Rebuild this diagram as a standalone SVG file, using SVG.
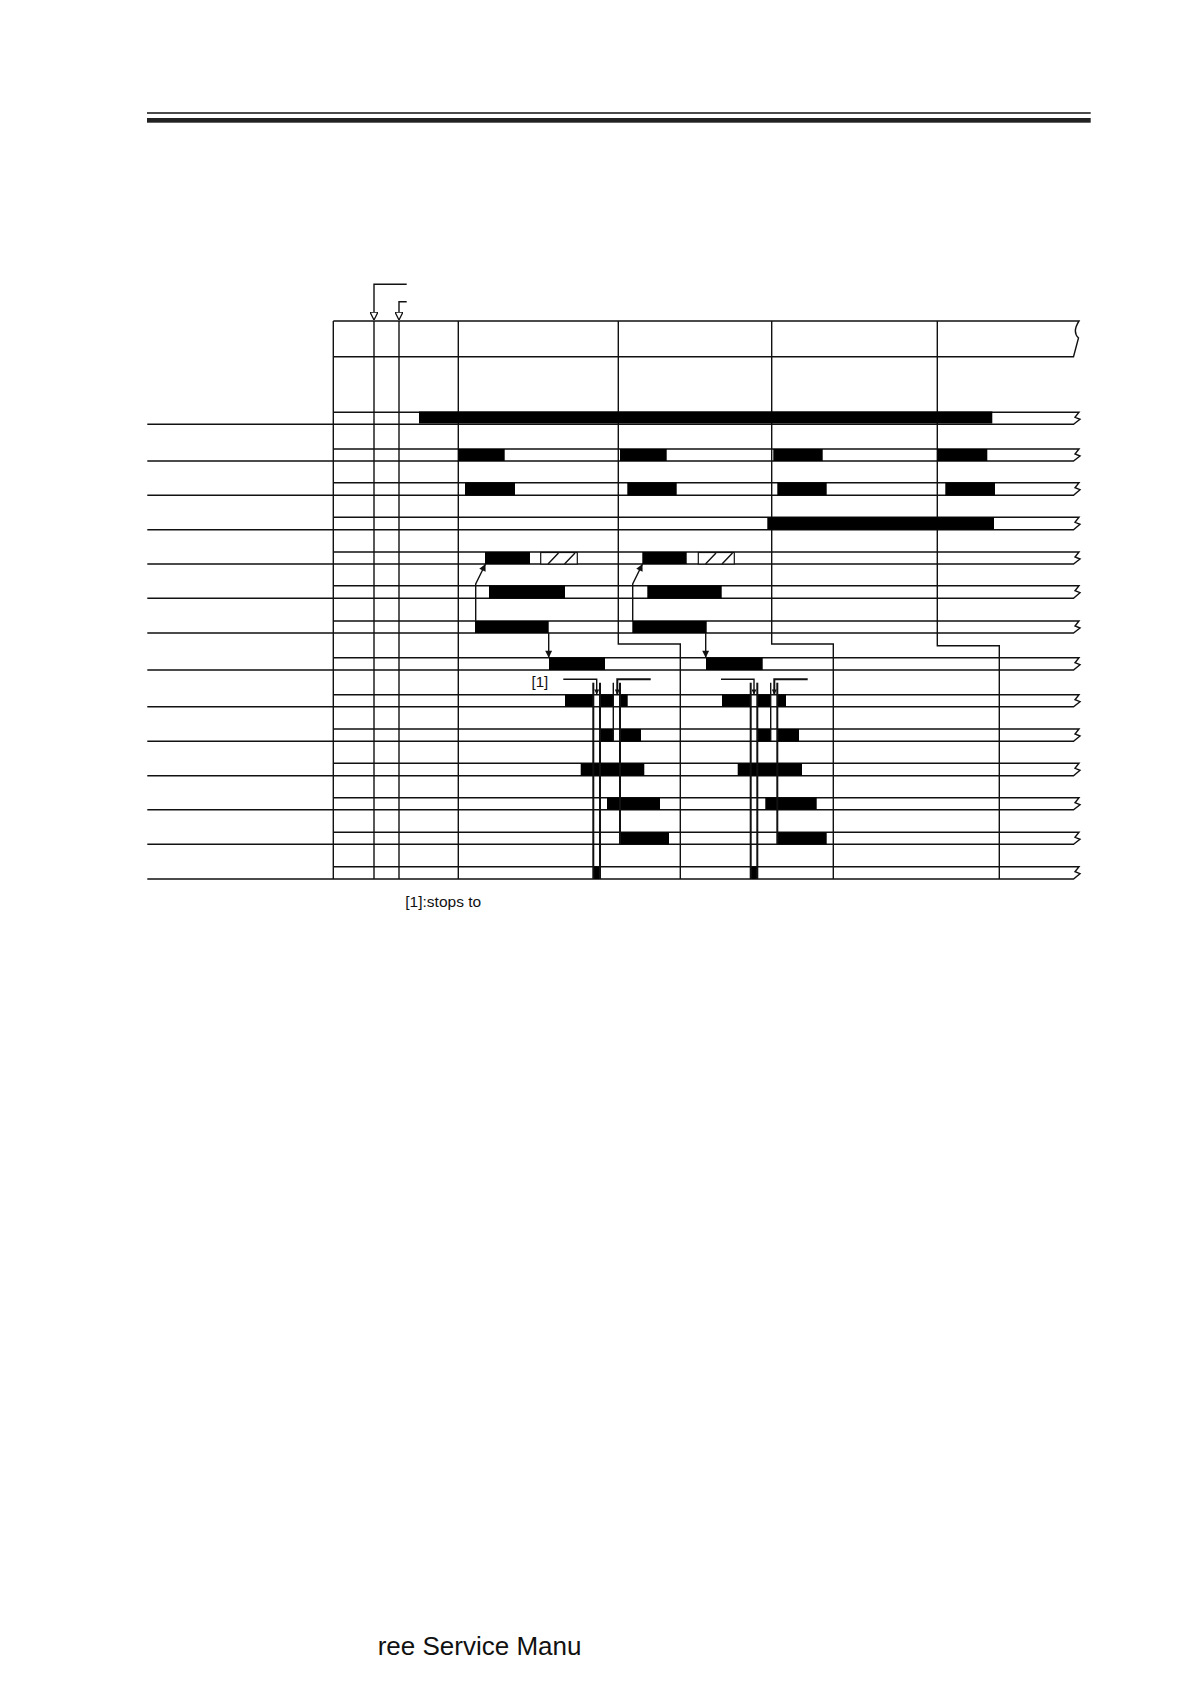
<svg xmlns="http://www.w3.org/2000/svg" width="1190" height="1684" viewBox="0 0 1190 1684">
<style>
.ln{stroke:#111;stroke-width:1.4;fill:none}
.th{stroke:#111;stroke-width:2;fill:none}
.bar{fill:#000}
.hat{fill:#fff;stroke:#111;stroke-width:1.2}
.txt{font-family:"Liberation Sans",Arial,sans-serif;fill:#111}
</style>
<defs>
<marker id="open" viewBox="0 0 10 10" refX="10" refY="5" markerWidth="8" markerHeight="8" markerUnits="userSpaceOnUse" orient="auto">
<path d="M0,0 L10,5 L0,10 Z" fill="#fff" stroke="#111" stroke-width="1.6"/>
</marker>
<marker id="fill" viewBox="0 0 10 10" refX="10" refY="5" markerWidth="9" markerHeight="7" markerUnits="userSpaceOnUse" orient="auto">
<path d="M0,0 L10,5 L0,10 Z" fill="#111"/>
</marker>
<marker id="small" viewBox="0 0 10 10" refX="10" refY="5" markerWidth="7" markerHeight="5" markerUnits="userSpaceOnUse" orient="auto">
<path d="M0,0 L10,5 L0,10 Z" fill="#111"/>
</marker>
</defs>
<rect width="1190" height="1684" fill="#fff"/>

<g id="header">
<line x1="147" y1="113" x2="1090.7" y2="113" stroke="#111" stroke-width="1.3"/>
<rect x="147" y="118" width="943.7" height="4.7" fill="#222"/>
</g>

<g id="grid">
<!-- top box -->
<path class="ln" d="M333.3,321 H1079 Q1072,332 1078.5,338 L1073.5,356.7 H333.3"/>
<line class="ln" x1="333.3" y1="321" x2="333.3" y2="879"/>
<line class="ln" x1="374" y1="321" x2="374" y2="879"/>
<line class="ln" x1="399" y1="321" x2="399" y2="879"/>
<line class="ln" x1="458.3" y1="321" x2="458.3" y2="879"/>
<path class="ln" d="M618.3,321 V644 H680.3 V879"/>
<path class="ln" d="M771.7,321 V644 H833.3 V879"/>
<path class="ln" d="M937.3,321 V645.7 H999.3 V879"/>
<!-- rows -->
<g id="rows">
<path class="ln" d="M333.3,412.3 H1079 L1075,417.3 L1080,419.3 L1073.5,424.3 H147.3"/>
<path class="ln" d="M333.3,449 H1079 L1075,454 L1080,456 L1073.5,461 H147.3"/>
<path class="ln" d="M333.3,482.7 H1079 L1075,487.7 L1080,489.7 L1073.5,495.3 H147.3"/>
<path class="ln" d="M333.3,517.3 H1079 L1075,522.3 L1080,524.3 L1073.5,529.7 H147.3"/>
<path class="ln" d="M333.3,552 H1079 L1075,557 L1080,559 L1073.5,564 H147.3"/>
<path class="ln" d="M333.3,585.7 H1079 L1075,590.7 L1080,592.7 L1073.5,598.3 H147.3"/>
<path class="ln" d="M333.3,621 H1079 L1075,626 L1080,628 L1073.5,633 H147.3"/>
<path class="ln" d="M333.3,657.7 H1079 L1075,662.7 L1080,664.7 L1073.5,670 H147.3"/>
<path class="ln" d="M333.3,694.7 H1079 L1075,699.7 L1080,701.7 L1073.5,706.7 H147.3"/>
<path class="ln" d="M333.3,729 H1079 L1075,734 L1080,736 L1073.5,741.3 H147.3"/>
<path class="ln" d="M333.3,763.3 H1079 L1075,768.3 L1080,770.3 L1073.5,775.7 H147.3"/>
<path class="ln" d="M333.3,797.7 H1079 L1075,802.7 L1080,804.7 L1073.5,809.7 H147.3"/>
<path class="ln" d="M333.3,832.3 H1079 L1075,837.3 L1080,839.3 L1073.5,844.3 H147.3"/>
<path class="ln" d="M333.3,866.7 H1079 L1075,871.7 L1080,873.7 L1073.5,879 H147.3"/>
</g>
</g>

<g id="signals">
<g id="row1"><rect class="bar" x="419" y="411.5" width="573.3" height="12"/></g>
<g id="row2">
<rect class="bar" x="458.3" y="449" width="46.4" height="12"/>
<rect class="bar" x="620" y="449" width="46.7" height="12"/>
<rect class="bar" x="773.3" y="449" width="49.4" height="12"/>
<rect class="bar" x="937.3" y="449" width="50" height="12"/>
</g>
<g id="row3">
<rect class="bar" x="465" y="482.7" width="50" height="12.6"/>
<rect class="bar" x="627.3" y="482.7" width="49.4" height="12.6"/>
<rect class="bar" x="777.3" y="482.7" width="49.4" height="12.6"/>
<rect class="bar" x="945.3" y="482.7" width="49.7" height="12.6"/>
</g>
<g id="row4"><rect class="bar" x="767.3" y="517.3" width="226.7" height="12.4"/></g>
<g id="row5">
<rect class="bar" x="485" y="552" width="45" height="12"/>
<rect class="hat" x="540.7" y="552.5" width="36.6" height="11.5"/>
<path class="ln" stroke-width="1" d="M548,564 L558.5,553 M564.5,564 L575,553"/>
<rect class="bar" x="642.3" y="552" width="44.4" height="12"/>
<rect class="hat" x="698.3" y="552.5" width="36" height="11.5"/>
<path class="ln" stroke-width="1" d="M705.5,564 L716,553 M722,564 L732.5,553"/>
</g>
<g id="row6">
<rect class="bar" x="489" y="585.7" width="76" height="12.6"/>
<rect class="bar" x="647.3" y="585.7" width="74.4" height="12.6"/>
</g>
<g id="row7">
<rect class="bar" x="475" y="621" width="73.7" height="12"/>
<rect class="bar" x="632.3" y="621" width="74.4" height="12"/>
</g>
<g id="row8">
<rect class="bar" x="549" y="657.7" width="56" height="12.3"/>
<rect class="bar" x="706" y="657.7" width="56.7" height="12.3"/>
</g>
<g id="row9">
<rect class="bar" x="565" y="694.7" width="28.3" height="12"/>
<rect class="bar" x="600" y="694.7" width="13.3" height="12"/>
<rect class="bar" x="620" y="694.7" width="7.7" height="12"/>
<rect class="bar" x="722" y="694.7" width="28.7" height="12"/>
<rect class="bar" x="757.3" y="694.7" width="13.4" height="12"/>
<rect class="bar" x="777.3" y="694.7" width="8.7" height="12"/>
</g>
<g id="row10">
<rect class="bar" x="600" y="729" width="13.3" height="12.3"/>
<rect class="bar" x="620" y="729" width="21" height="12.3"/>
<rect class="bar" x="757.3" y="729" width="13.4" height="12.3"/>
<rect class="bar" x="777.3" y="729" width="21.7" height="12.3"/>
</g>
<g id="row11">
<rect class="bar" x="580.7" y="763.3" width="63.6" height="12.4"/>
<rect class="bar" x="737.7" y="763.3" width="64.3" height="12.4"/>
</g>
<g id="row12">
<rect class="bar" x="607" y="797.7" width="53" height="12"/>
<rect class="bar" x="765.3" y="797.7" width="51.4" height="12"/>
</g>
<g id="row13">
<rect class="bar" x="620" y="832.3" width="49" height="12"/>
<rect class="bar" x="777.3" y="832.3" width="49.4" height="12"/>
</g>
<g id="row14">
<rect class="bar" x="593.3" y="866.7" width="6.7" height="12.3"/>
<rect class="bar" x="750.7" y="866.7" width="6.6" height="12.3"/>
</g>
</g>

<g id="connectors">
<!-- start arrows -->
<path class="ln" d="M406.7,284.3 H374 V320" marker-end="url(#open)"/>
<path class="ln" d="M406.7,301.7 H399 V320" marker-end="url(#open)"/>
<!-- row7 to row5 -->
<path class="ln" d="M475.7,621 V584 L485.5,564" marker-end="url(#fill)"/>
<path class="ln" d="M632.7,621 V584 L642.5,564" marker-end="url(#fill)"/>
<!-- row7 to row8 -->
<path class="ln" d="M548.7,633 V657.7" marker-end="url(#fill)"/>
<path class="ln" d="M705.7,633 V657.7" marker-end="url(#fill)"/>
<!-- event lines period 1 -->
<line class="th" x1="593.3" y1="682.7" x2="593.3" y2="879"/>
<line class="th" x1="600" y1="682.7" x2="600" y2="879"/>
<line class="ln" x1="613.3" y1="682.7" x2="613.3" y2="741.3"/>
<line class="th" x1="620" y1="682.7" x2="620" y2="844.3"/>
<path class="ln" d="M563.3,679.3 H596.7 V694.5" marker-end="url(#small)"/>
<path class="th" d="M650.7,679.3 H617.3 V694.5" marker-end="url(#small)"/>
<!-- event lines period 2 -->
<line class="th" x1="750.7" y1="682.7" x2="750.7" y2="879"/>
<line class="th" x1="757.3" y1="682.7" x2="757.3" y2="879"/>
<line class="ln" x1="770.7" y1="682.7" x2="770.7" y2="741.3"/>
<line class="th" x1="777.3" y1="682.7" x2="777.3" y2="844.3"/>
<path class="ln" d="M721,679.3 H754 V694.5" marker-end="url(#small)"/>
<path class="th" d="M807.7,679.3 H774.3 V694.5" marker-end="url(#small)"/>
</g>

<g id="labels">
<text class="txt" x="531.5" y="687" font-size="15">[1]</text>
<text class="txt" x="405.3" y="906.5" font-size="15.5">[1]:stops to</text>
<text class="txt" x="377.7" y="1655" font-size="26">ree Service Manu</text>
</g>
</svg>
